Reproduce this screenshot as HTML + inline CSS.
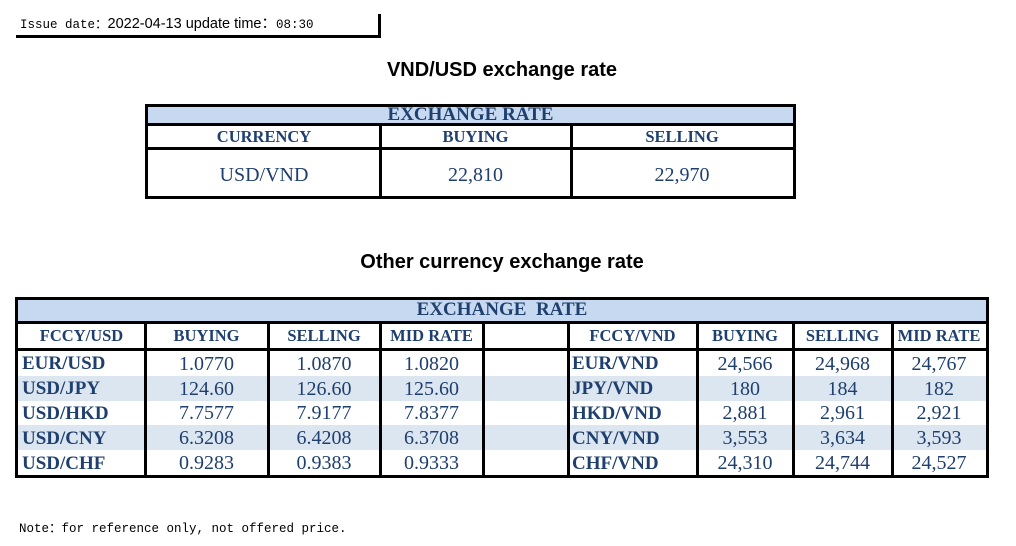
<!DOCTYPE html>
<html><head><meta charset="utf-8">
<style>
body{margin:0;width:1016px;height:546px;background:#fff;position:relative;overflow:hidden;font-family:"Liberation Serif",serif}
.a{position:absolute}
.ln{position:absolute;background:#000}
.c{position:absolute;display:flex;align-items:center;justify-content:center;color:#1f3f6e;white-space:nowrap}
.h{font-weight:bold;font-size:16.5px}
.d{font-size:20px}
.l{justify-content:flex-start;padding-left:4px;font-weight:bold;font-size:19px;box-sizing:border-box}
.ttl{position:absolute;left:0;width:1004px;text-align:center;font-family:"Liberation Sans",sans-serif;font-weight:bold;font-size:20px;color:#000}
</style></head><body>
<div class="a" style="left:20px;top:12px;font-size:13px;white-space:nowrap;color:#000"><span style="font-family:'Liberation Mono',monospace;font-size:12.5px">Issue date：</span><span style="font-family:'Liberation Sans',sans-serif;font-size:14.5px">2022-04-13 update time：</span><span style="font-family:'Liberation Mono',monospace;font-size:12.5px">08:30</span></div>
<div class="ln" style="left:16px;top:35px;width:365px;height:3px"></div>
<div class="ln" style="left:378px;top:14px;width:3px;height:24px"></div>

<div class="ttl" style="top:59px">VND/USD exchange rate</div>
<div class="ttl" style="top:251px">Other currency exchange rate</div>

<div id="top"></div>
<div id="bot"></div>

<div class="a" style="left:19px;top:517px;font-family:'Liberation Mono',monospace;font-size:12.5px;color:#000;white-space:nowrap">Note：for reference only, not offered price.</div>

<script>
const topHeaders=["CURRENCY","BUYING","SELLING"];
const topRow=["USD/VND","22,810","22,970"];
const leftHeaders=["FCCY/USD","BUYING","SELLING","MID RATE"];
const leftPairs=["EUR/USD","USD/JPY","USD/HKD","USD/CNY","USD/CHF"];
const leftBuy=["1.0770","124.60","7.7577","6.3208","0.9283"];
const leftSell=["1.0870","126.60","7.9177","6.4208","0.9383"];
const leftMid=["1.0820","125.60","7.8377","6.3708","0.9333"];
const rightHeaders=["FCCY/VND","BUYING","SELLING","MID RATE"];
const rightPairs=["EUR/VND","JPY/VND","HKD/VND","CNY/VND","CHF/VND"];
const rightBuy=["24,566","180","2,881","3,553","24,310"];
const rightSell=["24,968","184","2,961","3,634","24,744"];
const rightMid=["24,767","182","2,921","3,593","24,527"];

function box(parent,x,y,w,h,bg){const d=document.createElement('div');d.className='a';d.style.cssText=`left:${x}px;top:${y}px;width:${w}px;height:${h}px;background:${bg}`;parent.appendChild(d);return d;}
function cell(parent,x,y,w,h,txt,cls){const d=document.createElement('div');d.className='c '+cls;d.style.cssText+=`left:${x}px;top:${y}px;width:${w}px;height:${h}px`;d.textContent=txt;parent.appendChild(d);return d;}

// top table
const T=document.getElementById('top');
box(T,145,104,651,95,'#000');
box(T,148,107,645,89,'#fff');
box(T,148,107,645,17,'#c6d9f0');
let t=cell(T,148,105,645,19,'EXCHANGE RATE','h');t.style.fontSize='19px';

box(T,145,123,651,3,'#000');
box(T,145,147,651,3,'#000');
const tx=[148,380,571,793];
for(let i=1;i<3;i++)box(T,tx[i]-1,123,3,76,'#000');
for(let i=0;i<3;i++){
  const h=cell(T,tx[i],126,tx[i+1]-tx[i],21,topHeaders[i],'h');
  
  const v=cell(T,tx[i],152,tx[i+1]-tx[i],46,topRow[i],'d');
  
}

// bottom table
const B=document.getElementById('bot');
box(B,15,297,974,181,'#000');
box(B,18,300,968,175,'#fff');
box(B,18,300,968,22,'#c6d9f0');
t=cell(B,18,299,968,22,'EXCHANGE  RATE','h');t.style.fontSize='19px';t.style.whiteSpace='pre';

box(B,15,321,974,3,'#000');
box(B,15,348,974,3,'#000');
const rowY=351,rowH=24.8;
for(let r=0;r<5;r++){ if(r%2===1) box(B,18,rowY+r*rowH,968,rowH,'#dce6f1'); }
const xs=[18,145,268,380,483,568,697,793,892,986];
for(let i=1;i<9;i++)box(B,xs[i]-1,321,3,157,'#000');
const lcols=[leftPairs,leftBuy,leftSell,leftMid];
const rcols=[rightPairs,rightBuy,rightSell,rightMid];
for(let i=0;i<4;i++){
  let h=cell(B,xs[i],324,xs[i+1]-xs[i],24,leftHeaders[i],'h');
  
  h=cell(B,xs[i+5],324,xs[i+6]-xs[i+5],24,rightHeaders[i],'h');
  
  for(let r=0;r<5;r++){
    let c=cell(B,xs[i],rowY+r*rowH+1,xs[i+1]-xs[i],rowH,lcols[i][r],i===0?'l':'d');
    
    c=cell(B,xs[i+5],rowY+r*rowH+1,xs[i+6]-xs[i+5],rowH,rcols[i][r],i===0?'l':'d');
    
  }
}
</script>
</body></html>
